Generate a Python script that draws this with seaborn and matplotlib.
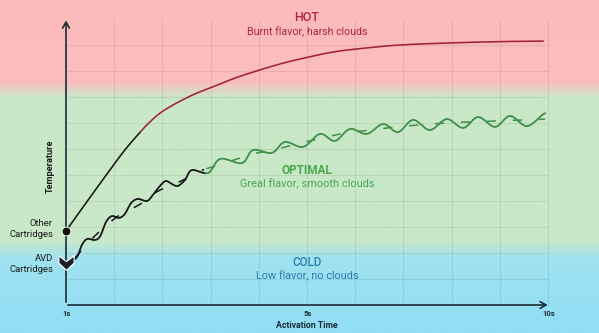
import numpy as np
import pandas as pd
import matplotlib
matplotlib.use("Agg")
import matplotlib.pyplot as plt
import seaborn as sns
from matplotlib.colors import LinearSegmentedColormap
from matplotlib.path import Path

sns.set_theme(style="white")
plt.rcParams['font.family'] = ['Roboto', 'DejaVu Sans']

# ---------------- data (x: activation-time position 0..10, y: temperature units) -------------
tick_pos = [0, 5, 10]
tick_labels = ["1s", "5s", "10s"]

other_t = [0.00, 0.46, 0.91, 1.22, 1.54, 1.74, 1.95, 2.18, 2.43, 2.70, 2.99, 3.51, 4.02,
           4.44, 4.85, 5.54, 6.20, 6.93, 7.97, 9.00, 9.90]
other_T = [2.85, 4.04, 5.19, 5.96, 6.65, 7.04, 7.38, 7.65, 7.90, 8.14, 8.35, 8.73, 9.04,
           9.27, 9.46, 9.73, 9.88, 10.00, 10.08, 10.13, 10.15]

avd_t = [0.08, 0.23, 0.33, 0.44, 0.60, 0.71, 0.83, 0.95, 1.10, 1.22, 1.35, 1.49, 1.68, 1.80,
         1.95, 2.07, 2.20, 2.32, 2.47, 2.61, 2.95, 3.20, 3.65, 3.88, 4.27, 4.54, 4.92, 5.27,
         5.58, 5.89, 6.24, 6.58, 6.89, 7.20, 7.55, 7.90, 8.24, 8.55, 8.90, 9.21, 9.56, 9.88, 9.94]
avd_T = [1.65, 1.85, 2.31, 2.54, 2.50, 2.65, 3.19, 3.42, 3.35, 3.50, 3.92, 4.08, 4.00, 4.23,
         4.58, 4.77, 4.65, 4.58, 4.81, 5.19, 5.08, 5.62, 5.46, 5.96, 5.85, 6.27, 6.08, 6.58,
         6.31, 6.77, 6.58, 6.96, 6.65, 7.12, 6.73, 7.15, 6.81, 7.23, 6.85, 7.27, 6.88, 7.31, 7.38]

trend_t = [0.19, 0.33, 0.64, 1.08, 1.54, 1.91, 2.39, 2.78, 3.36, 3.88, 4.29, 4.79, 5.31,
           5.81, 6.33, 6.85, 7.30, 7.86, 8.34, 8.94, 9.56, 9.94]
trend_T = [1.81, 2.12, 2.73, 3.42, 3.88, 4.38, 4.77, 5.15, 5.50, 5.81, 5.96, 6.19, 6.42,
           6.62, 6.73, 6.85, 6.92, 7.00, 7.04, 7.08, 7.12, 7.15]

split_other = 1.54   # colour change of "other" curve
split_avd = 2.90     # colour change of AVD curve

# ---------------- helpers -------------
def smooth(xs, ys, n=12):
    """Catmull-Rom rendering through the given points (drawing style only)."""
    P = np.column_stack([xs, ys]).astype(float)
    P = np.vstack([P[0], P, P[-1]])
    out = []
    for i in range(1, len(P) - 2):
        p0, p1, p2, p3 = P[i - 1], P[i], P[i + 1], P[i + 2]
        for s in np.linspace(0, 1, n, endpoint=False):
            s2, s3 = s * s, s * s * s
            out.append(0.5 * ((2 * p1) + (-p0 + p2) * s + (2 * p0 - 5 * p1 + 4 * p2 - p3) * s2
                              + (-p0 + 3 * p1 - 3 * p2 + p3) * s3))
    out.append(P[-2])
    out = np.array(out)
    return out[:, 0], out[:, 1]

def draw(ax, xs, ys, color, lw, split, color2, **kw):
    sx, sy = smooth(xs, ys)
    df = pd.DataFrame({"x": sx, "y": sy})
    a = df[df.x <= split + 1e-9]
    b = df[df.x >= split - 0.02]
    sns.lineplot(data=a, x="x", y="y", ax=ax, color=color, lw=lw, sort=False, estimator=None, **kw)
    sns.lineplot(data=b, x="x", y="y", ax=ax, color=color2, lw=lw, sort=False, estimator=None, **kw)

# ---------------- figure -------------
W, H = 599, 333
fig = plt.figure(figsize=(W / 100, H / 100), dpi=100)
ax = fig.add_axes([0, 0, 1, 1])
px_per_t, px_per_T = 48.2, 26.0
x0, y0 = 66, 305
xlim = (-x0 / px_per_t, (W - x0) / px_per_t)
ylim = ((y0 - H) / px_per_T, y0 / px_per_T)

# background gradient bands
cmap = LinearSegmentedColormap.from_list("bands", [
    (0.0, (252/255, 186/255, 187/255)),
    (0.245, (250/255, 190/255, 189/255)),
    (0.29, (202/255, 232/255, 200/255)),
    (0.725, (200/255, 232/255, 200/255)),
    (0.775, (160/255, 226/255, 240/255)),
    (1.0, (145/255, 222/255, 246/255))])
grad = np.linspace(0, 1, 400).reshape(-1, 1)
ax.imshow(grad, cmap=cmap, aspect="auto", extent=[xlim[0], xlim[1], ylim[0], ylim[1]],
          origin="upper", zorder=0)

# grid
gc = (0, 0, 0, 0.07)
for v in range(1, 11):
    ax.plot([0, 10], [v, v], color=gc, lw=0.8, zorder=1)
for v in range(1, 11):
    ax.plot([v, v], [0, 11.0], color=gc, lw=0.8, zorder=1)

# axes with arrows
axc = "#1d2b36"
ax.annotate("", xy=(0, 11.05), xytext=(0, 0),
            arrowprops=dict(arrowstyle="->,head_length=0.35,head_width=0.2", color=axc, lw=1.2), zorder=3)
ax.annotate("", xy=(10.05, 0), xytext=(-0.02, 0),
            arrowprops=dict(arrowstyle="->,head_length=0.35,head_width=0.2", color=axc, lw=1.2), zorder=3)

# curves
red = "#a3203a"
green = "#3f8f47"
black = "#161616"
draw(ax, other_t, other_T, black, 1.15, split_other, red, zorder=4)
draw(ax, trend_t, trend_T, black, 1.1, split_avd, green, zorder=4, dashes=(6, 11))
draw(ax, avd_t, avd_T, black, 1.3, split_avd, green, zorder=5)
ax.lines[-1].set_linestyle("-")
ax.lines[-2].set_linestyle("-")

# markers
ax.scatter([other_t[0]], [other_T[0]], s=40, color="#111111", edgecolor="white", linewidth=0.6, zorder=6)
chev = Path([(-1, 1.0), (0, 0.25), (1, 1.0), (1, 0.05), (0, -0.9), (-1, 0.05), (-1, 1.0)],
            [Path.MOVETO] + [Path.LINETO] * 5 + [Path.CLOSEPOLY])
ax.scatter([0], [1.62], s=120, marker=chev, color="#1e1e28", edgecolor="white", linewidth=0.8, zorder=6)

# texts
ax.text(5.0, 11.04, "HOT", ha="center", va="center", fontsize=9, color="#b0263b", fontweight="medium")
ax.text(5.0, 10.5, "Burnt flavor, harsh clouds", ha="center", va="center", fontsize=7.7, color="#a8263a")
ax.text(5.0, 5.19, "OPTIMAL", ha="center", va="center", fontsize=8.5, color="#4aa84e", fontweight="bold")
ax.text(5.0, 4.65, "Greal flavor, smooth clouds", ha="center", va="center", fontsize=7.9, color="#4aa84e")
ax.text(5.0, 1.62, "COLD", ha="center", va="center", fontsize=8.3, color="#2d7bb0", fontweight="medium")
ax.text(5.0, 1.12, "Low flavor, no clouds", ha="center", va="center", fontsize=7.8, color="#2d7bb0")

ax.text(-0.33, 5.35, "Temperature", rotation=90, ha="center", va="center", fontsize=6.6, fontweight="bold", color="#1a1a1a")
ax.text(-0.27, 2.92, "Other\nCartridges", ha="right", va="center", fontsize=6.8, color="#1a1a1a", linespacing=1.25)
ax.text(-0.27, 1.58, "AVD\nCartridges", ha="right", va="center", fontsize=6.8, color="#1a1a1a", linespacing=1.2)

for p, lab in zip(tick_pos, tick_labels):
    ax.text(p + 0.02, -0.31, lab, ha="center", va="center", fontsize=5.5, fontweight="bold", color="#1d2b36")
ax.text(5.0, -0.77, "Activation Time", ha="center", va="center", fontsize=6.3, fontweight="bold", color="#1d2b36")

ax.set_xlim(*xlim)
ax.set_ylim(*ylim)
ax.axis("off")
fig.savefig("out.png", dpi=100)
